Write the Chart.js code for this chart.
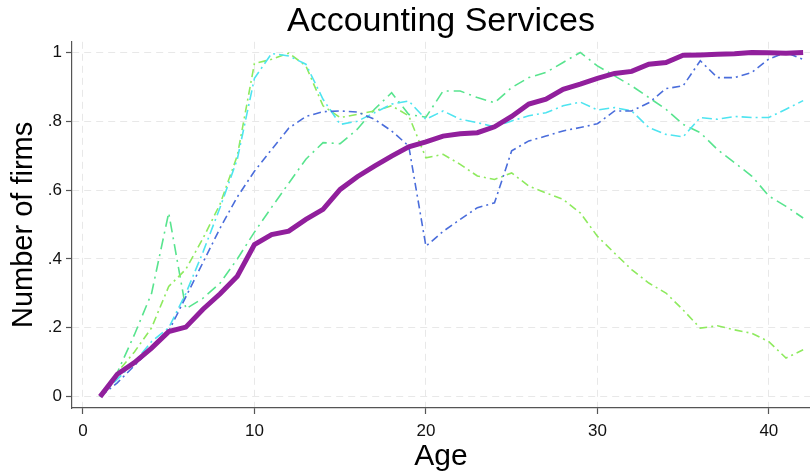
<!DOCTYPE html>
<html>
<head>
<meta charset="utf-8">
<title>Accounting Services</title>
<script src="https://cdn.jsdelivr.net/npm/chart.js@4.4.1/dist/chart.umd.min.js"></script>
<style>
    body { margin: 0; background: #ffffff; }
    #wrap { width: 810px; height: 472px; }
</style>
</head>
<body>
<div id="wrap"><canvas id="chart" width="810" height="472"></canvas></div>
<script>
// Firm age (years)
const ages = [1, 2, 3, 4, 5, 6, 7, 8, 9, 10, 11, 12, 13, 14, 15, 16, 17, 18, 19, 20, 21,
    22, 23, 24, 25, 26, 27, 28, 29, 30, 31, 32, 33, 34, 35, 36, 37, 38, 39, 40, 41, 42];

// Thick purple line
const seriesMain = [0, 0.065, 0.099, 0.141, 0.189, 0.202, 0.254, 0.299, 0.350, 0.442,
    0.471, 0.481, 0.515, 0.544, 0.602, 0.639, 0.670, 0.699, 0.726, 0.740,
    0.757, 0.764, 0.767, 0.784, 0.814, 0.850, 0.864, 0.893, 0.908, 0.925,
    0.939, 0.945, 0.966, 0.971, 0.992, 0.993, 0.995, 0.996, 1.000, 0.999, 0.998, 1.000];

// Dashed comparison lines
const seriesBlue = [0, 0.04, 0.09, 0.14, 0.19, 0.29, 0.39, 0.49, 0.58, 0.655,
    0.718, 0.78, 0.814, 0.828, 0.83, 0.827, 0.806, 0.772, 0.728, 0.437,
    0.48, 0.515, 0.549, 0.563, 0.714, 0.743, 0.757, 0.772, 0.782, 0.793,
    0.83, 0.83, 0.854, 0.895, 0.903, 0.976, 0.927, 0.927, 0.942, 0.981, 1.0, 0.98];

const seriesCyan = [0, 0.05, 0.10, 0.16, 0.20, 0.30, 0.42, 0.55, 0.69, 0.925,
    0.997, 0.99, 0.966, 0.864, 0.791, 0.80, 0.825, 0.85, 0.859, 0.806,
    0.83, 0.806, 0.796, 0.784, 0.801, 0.816, 0.825, 0.845, 0.856, 0.833,
    0.84, 0.83, 0.782, 0.762, 0.755, 0.811, 0.806, 0.814, 0.811, 0.811, 0.835, 0.86];

const seriesLime = [0, 0.07, 0.13, 0.20, 0.32, 0.37, 0.46, 0.56, 0.70, 0.968,
    0.98, 0.998, 0.961, 0.845, 0.811, 0.82, 0.83, 0.845, 0.816, 0.694,
    0.704, 0.675, 0.641, 0.631, 0.65, 0.612, 0.592, 0.573, 0.534, 0.466,
    0.417, 0.369, 0.330, 0.301, 0.252, 0.199, 0.206, 0.194, 0.184, 0.160, 0.112, 0.136];

const seriesSpring = [0, 0.07, 0.18, 0.30, 0.534, 0.255, 0.286, 0.33, 0.40, 0.478,
    0.55, 0.62, 0.69, 0.738, 0.735, 0.777, 0.835, 0.883, 0.82, 0.812,
    0.888, 0.888, 0.869, 0.854, 0.898, 0.927, 0.942, 0.971, 1.0, 0.961,
    0.932, 0.903, 0.869, 0.835, 0.791, 0.767, 0.718, 0.680, 0.641, 0.583, 0.553, 0.519];

// Axis ticks
const xTicks = [0, 10, 20, 30, 40];
const yTicks = [0, 0.2, 0.4, 0.6, 0.8, 1];
const yTickLabels = ['0', '.2', '.4', '.6', '.8', '1'];

const FONT = "'Liberation Sans', Arial, sans-serif";
const AXIS_COLOR = '#555555';
const GRID_COLOR = '#e8e8e8';

function toPoints(values) {
    return values.map((v, i) => ({ x: ages[i], y: v }));
}

function makeLine(values, color, width, dash) {
    return {
        data: toPoints(values),
        borderColor: color,
        borderWidth: width,
        borderDash: dash,
        pointRadius: 0,
        tension: 0,
        fill: false
    };
}

const ctx = document.getElementById('chart').getContext('2d');

new Chart(ctx, {
    type: 'line',
    data: {
        datasets: [
            // first dataset is drawn on top
            makeLine(seriesMain, '#911f9c', 5, []),
            makeLine(seriesBlue, '#4a6ddb', 1.6, [8, 4, 2, 4]),
            makeLine(seriesCyan, '#4ee4f0', 1.6, [10, 4, 2, 4]),
            makeLine(seriesLime, '#8eea5e', 1.6, [8, 4, 2, 4]),
            makeLine(seriesSpring, '#58e48e', 1.6, [11, 5, 2, 5])
        ]
    },
    options: {
        responsive: false,
        animation: false,
        layout: { padding: { left: 0, right: 0, top: 0, bottom: 0 } },
        plugins: {
            legend: { display: false },
            tooltip: { enabled: false },
            title: {
                display: true,
                fullSize: false,
                text: 'Accounting Services',
                color: '#000000',
                font: { family: FONT, size: 34, weight: 'normal' },
                padding: { top: 1, bottom: 0 }
            }
        },
        scales: {
            x: {
                type: 'linear',
                min: -0.64,
                max: 42.4,
                afterFit: scale => { scale.height = 64; },
                afterBuildTicks: scale => { scale.ticks = xTicks.map(v => ({ value: v })); },
                ticks: {
                    color: '#111111',
                    font: { family: FONT, size: 17 },
                    padding: 7,
                    maxRotation: 0
                },
                grid: {
                    color: GRID_COLOR,
                    lineWidth: 1,
                    tickLength: 6,
                    tickColor: AXIS_COLOR,
                    tickWidth: 1.2,
                    tickBorderDash: []
                },
                border: { display: true, color: AXIS_COLOR, width: 1.2, dash: [7, 5] },
                title: {
                    display: true,
                    text: 'Age',
                    color: '#000000',
                    font: { family: FONT, size: 30 },
                    padding: { top: 0, bottom: -3 }
                }
            },
            y: {
                type: 'linear',
                min: -0.033,
                max: 1.031,
                afterFit: scale => { scale.width = 72; },
                afterBuildTicks: scale => { scale.ticks = yTicks.map(v => ({ value: v })); },
                ticks: {
                    color: '#111111',
                    font: { family: FONT, size: 17 },
                    padding: 4,
                    callback: (value) => yTickLabels[yTicks.indexOf(value)] ?? ''
                },
                grid: {
                    color: GRID_COLOR,
                    lineWidth: 1,
                    tickLength: 6,
                    tickColor: AXIS_COLOR,
                    tickWidth: 1.2,
                    tickBorderDash: []
                },
                border: { display: true, color: AXIS_COLOR, width: 1.2, dash: [7, 5] },
                title: {
                    display: true,
                    text: 'Number of firms',
                    color: '#000000',
                    font: { family: FONT, size: 29 },
                    padding: { top: 7, bottom: 0 }
                }
            }
        }
    }
});
</script>
</body>
</html>
